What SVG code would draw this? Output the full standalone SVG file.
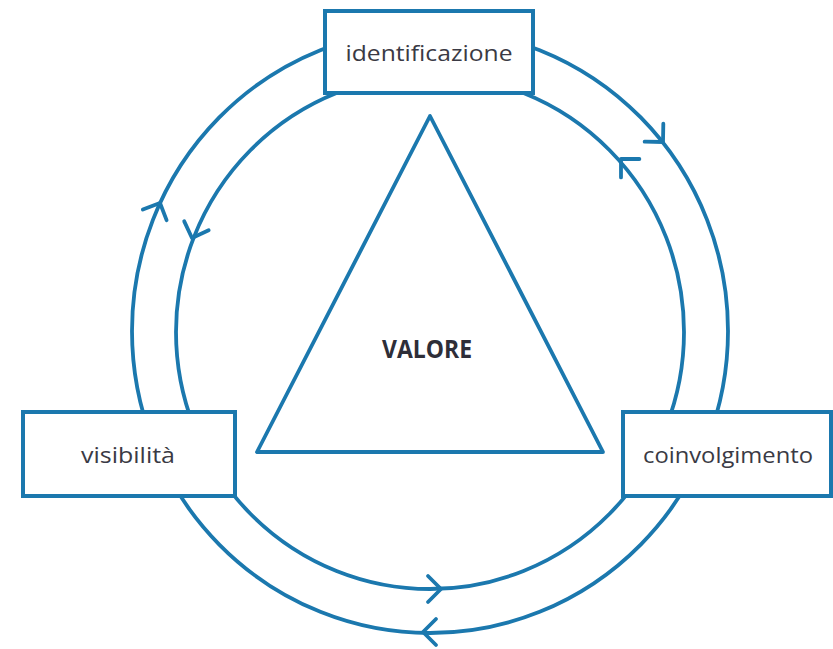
<svg xmlns="http://www.w3.org/2000/svg" width="833" height="649" viewBox="0 0 833 649">
<style>
.ln{fill:none;stroke:#1b78ae;stroke-width:3.8;stroke-linecap:round;stroke-linejoin:round}
.box{fill:#fff;stroke:#1b78ae;stroke-width:4}
.lbl{font-family:"Open Sans","DejaVu Sans",sans-serif;font-size:22px;fill:#3a3a44;text-anchor:middle}
.big{font-family:"Open Sans","DejaVu Sans",sans-serif;font-size:25px;font-weight:bold;fill:#2e2e38;text-anchor:middle}
</style>
<defs>
<path id="chev" d="M-13,-13 L0,0 L-13,13" class="ln"/>
</defs>
<rect width="833" height="649" fill="#fff"/>
<g id="connectors">
<ellipse class="ln" cx="430" cy="331" rx="298" ry="302"/>
<ellipse class="ln" cx="430" cy="332" rx="254" ry="257"/>
<use href="#chev" transform="translate(663,142) rotate(46)"/>
<use href="#chev" transform="translate(621,159) rotate(-135)"/>
<use href="#chev" transform="translate(160,203) rotate(-66)"/>
<use href="#chev" transform="translate(192,238) rotate(110)"/>
<use href="#chev" transform="translate(441,589) rotate(0)"/>
<use href="#chev" transform="translate(423,632) rotate(180)"/>
</g>
<g id="valore">
<polygon class="ln" points="430,116 257,452 603,452"/>
<text class="big" x="427" y="358" textLength="90" lengthAdjust="spacingAndGlyphs">VALORE</text>
</g>
<g id="identificazione">
<rect class="box" x="325" y="11" width="208" height="82"/>
<text class="lbl" x="429" y="61" textLength="167" lengthAdjust="spacingAndGlyphs">identificazione</text>
</g>
<g id="visibilita">
<rect class="box" x="23" y="412" width="212" height="84"/>
<text class="lbl" x="128" y="463" textLength="94" lengthAdjust="spacingAndGlyphs">visibilità</text>
</g>
<g id="coinvolgimento">
<rect class="box" x="623" y="412" width="208" height="84"/>
<text class="lbl" x="728" y="463" textLength="170" lengthAdjust="spacingAndGlyphs">coinvolgimento</text>
</g>
</svg>
